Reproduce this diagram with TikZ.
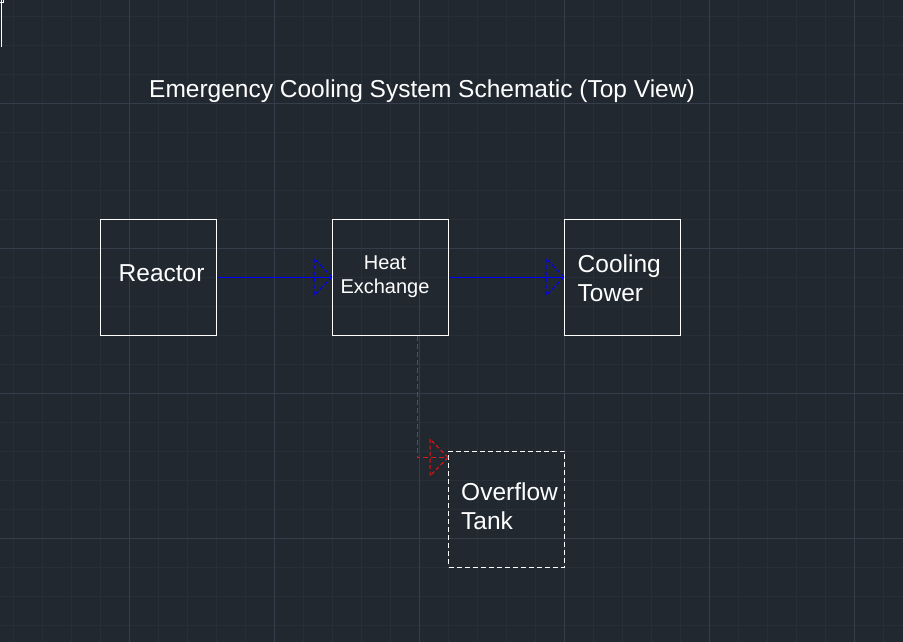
\documentclass[tikz,border=0pt]{standalone}
\usepackage{fontspec}
\setmainfont{Liberation Sans}
\definecolor{bgc}{RGB}{33,40,48}
\definecolor{minorc}{RGB}{39,47,57}
\definecolor{majorc}{RGB}{53,61,75}
\definecolor{flowblue}{RGB}{0,0,255}
\definecolor{flowred}{RGB}{230,20,20}
\tikzset{
  box/.style={draw=white, line width=1pt, minimum width=116pt, minimum height=116pt, inner sep=0pt},
  dashbox/.style={box, dash pattern=on 5pt off 3pt},
  bigtxt/.style={text=white, inner sep=0pt, font=\fontsize{24.5}{29}\selectfont},
  smalltxt/.style={text=white, inner sep=0pt, font=\fontsize{20}{24}\selectfont},
  flow/.style={draw=flowblue, line width=0.8pt},
  overflow/.style={draw=flowred, line width=0.8pt, dash pattern=on 5pt off 3pt},
  headpic/.pic={\draw[line width=1pt, dash pattern=on 4pt off 2.5pt] (0,0) -- (-18,-18.5) -- (-18,18.5) -- cycle;}
}
\begin{document}
\begin{tikzpicture}[x=1pt, y=-1pt]
  \fill[bgc] (0,0) rectangle (903,642);
  \useasboundingbox (0,0) rectangle (903,642);
  % grid
  \foreach \i in {0,...,31} \draw[minorc, line width=0.8pt] ({13.5+29*\i},0) -- ++(0,642);
  \foreach \j in {0,...,21} \draw[minorc, line width=0.8pt] (0,{16.5+29*\j}) -- ++(903,0);
  \foreach \i in {0,...,5} \draw[majorc, line width=0.9pt] ({129.5+145*\i},0) -- ++(0,642);
  \foreach \j in {0,...,3} \draw[majorc, line width=0.9pt] (0,{103.5+145*\j}) -- ++(903,0);
  % caret mark top-left
  \draw[white, line width=1pt] (1.5,0) -- (1.5,47.5);
  \draw[white, line width=0.8pt] (0,2) -- (3.5,2) -- (3.5,0);
  % title
  \node[bigtxt, anchor=base west] (title) at (149,98) {Emergency Cooling System Schematic (Top View)};
  % boxes
  \node[box] (reactor) at (158.5,277) {};
  \node[box] (hx) at (390.5,277) {};
  \node[box] (tower) at (622.5,277) {};
  \node[dashbox] (tank) at (506.5,509) {};
  % labels
  \node[bigtxt, anchor=base west] (reactort) at (118.5,281) {Reactor};
  \node[smalltxt, anchor=base] (hxt1) at (385,269) {Heat};
  \node[smalltxt, anchor=base] (hxt2) at (385,293.5) {Exchange};
  \node[bigtxt, anchor=base west] (towert1) at (577.5,272.5) {Cooling};
  \node[bigtxt, anchor=base west] (towert2) at (577.5,301.5) {Tower};
  \node[bigtxt, anchor=base west] (tankt1) at (461,500.5) {Overflow};
  \node[bigtxt, anchor=base west] (tankt2) at (461,529.5) {Tank};
  % connectors
  \draw[flow] (reactor.east) -- (hx.west);
  \pic[flowblue] at (hx.west) {headpic};
  \draw[flow] (hx.east) -- (tower.west);
  \pic[flowblue] at (tower.west) {headpic};
  \draw[overflow] ([xshift=26.5pt]hx.south) |- ([yshift=-7pt]tank.north west);
  \pic[flowred] at ([yshift=-7pt]tank.north west) {headpic};
\end{tikzpicture}
\end{document}
